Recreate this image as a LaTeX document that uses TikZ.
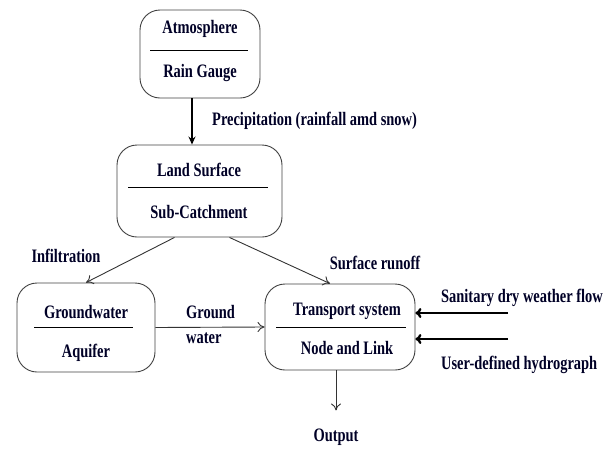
\documentclass[tikz,border=0pt]{standalone}
\usepackage{fontspec}
\setmainfont{Liberation Serif}[FakeStretch=0.76]
\usetikzlibrary{arrows.meta}
\begin{document}
\begin{tikzpicture}[x=1pt,y=-1pt,
  box/.style={draw=black!75, line width=0.9pt, rounded corners=20pt, inner sep=0pt},
  lbl/.style={font=\bfseries\fontsize{19}{21}\selectfont, inner sep=1pt, text=black!85!blue},
  sep/.style={line width=0.9pt},
  thin/.style={-{To[length=7pt,width=10pt]}, line width=0.9pt, draw=black!80},
  thick/.style={-{Stealth[length=8pt,width=7pt]}, line width=1.6pt},
  heavy/.style={-{To[length=6pt,width=10pt]}, line width=2.4pt}]
\useasboundingbox (0,0) rectangle (614,448);
% boxes
\node[box, minimum width=120pt, minimum height=88pt] (atm) at (200,54) {};
\node[box, minimum width=165pt, minimum height=92pt] (land) at (199.5,191) {};
\node[box, minimum width=138pt, minimum height=89pt] (gw) at (86,327.5) {};
\node[box, minimum width=150pt, minimum height=86pt] (tr) at (340,327) {};
% box texts
\node[lbl] (atm1) at (200,29) {Atmosphere};
\node[lbl] (atm2) at (200,73) {Rain Gauge};
\draw[sep] (150,50) -- (248,50);
\node[lbl] (land1) at (199,170) {Land Surface};
\node[lbl] (land2) at (199,212) {Sub-Catchment};
\draw[sep] (128,187) -- (268,187);
\node[lbl] (gw1) at (86,312) {Groundwater};
\node[lbl] (gw2) at (86,353) {Aquifer};
\draw[sep] (34,327) -- (133,327);
\node[lbl] (tr1) at (347,311) {Transport system};
\node[lbl] (tr2) at (347,348) {Node and Link};
\draw[sep] (276,327) -- (406,327);
% labels
\node[lbl, anchor=west] (prec) at (211,121) {Precipitation (rainfall amd snow)};
\node[lbl] (inf) at (66,256) {Infiltration};
\node[lbl] (sr) at (375,263) {Surface runoff};
\node[lbl, anchor=west] (gwa) at (185,312) {Ground};
\node[lbl, anchor=west] (gwb) at (185,338) {water};
\node[lbl, anchor=west] (san) at (440,298) {Sanitary dry weather flow};
\node[lbl, anchor=west] (usr) at (440,365) {User-defined hydrograph};
\node[lbl] (out) at (336,437) {Output};
\coordinate (s1) at (508,313);
\coordinate (u1) at (508,339);
% connectors
\draw[thick] ([xshift=-8pt]atm.south) -- ([xshift=-8pt]atm.south |- land.north);
\draw[thin] ([xshift=-25pt]land.south) -- (gw.north);
\draw[thin] ([xshift=30pt]land.south) -- ([xshift=-10pt]tr.north);
\draw[thin] (gw.east) -- (tr.west);
\draw[heavy] (s1) -- (s1 -| tr.east);
\draw[heavy] (u1) -- (u1 -| tr.east);
\draw[thin] ([xshift=-4pt]tr.south) -- ([xshift=-4pt,yshift=-40pt]tr.south);
\end{tikzpicture}
\end{document}
